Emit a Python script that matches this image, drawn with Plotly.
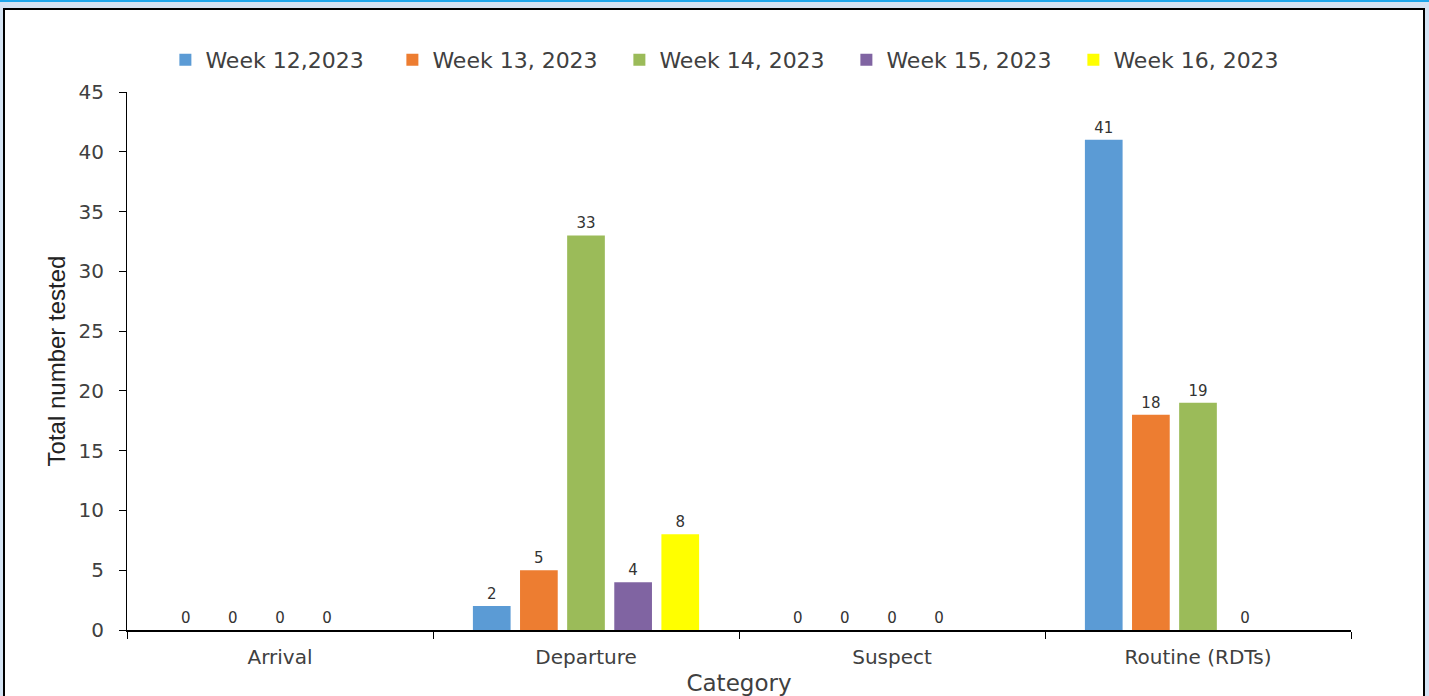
import plotly.graph_objects as go

categories = ["Arrival", "Departure", "Suspect", "Routine (RDTs)"]
series_names = ["Week 12,2023", "Week 13, 2023", "Week 14, 2023", "Week 15, 2023", "Week 16, 2023"]
week12 = [0, 2, 0, 41]
week13 = [0, 5, 0, 18]
week14 = [0, 33, 0, 19]
week15 = [0, 4, 0, 0]
week16 = [None, 8, None, None]
colors = ["#5b9bd5", "#ed7d31", "#9bbb59", "#8064a2", "#ffff00"]
y_ticks = [0, 5, 10, 15, 20, 25, 30, 35, 40, 45]

fig = go.Figure()
for name, vals, col in zip(series_names, [week12, week13, week14, week15, week16], colors):
    fig.add_trace(go.Bar(
        x=categories, y=vals, name=name,
        marker=dict(color=col, line=dict(width=0)),
        text=[("" if v is None else str(v)) for v in vals],
        textposition="outside",
        textfont=dict(family="DejaVu Sans", size=15, color="#333333"),
        cliponaxis=False,
    ))

fig.update_layout(
    width=1429, height=696,
    barmode="group", bargap=0.23, bargroupgap=0.2,
    paper_bgcolor="#d5e4f4", plot_bgcolor="white",
    margin=dict(l=127, r=78, t=92, b=66, autoexpand=False),
    font=dict(family="DejaVu Sans", color="#404040"),
    legend=dict(orientation="h", x=0.495, xanchor="center", y=(630 - 60) / 538, yanchor="middle",
                font=dict(size=22, color="#404040"), bgcolor="rgba(0,0,0,0)",
                entrywidth=182, entrywidthmode="pixels"),
    showlegend=True,
    shapes=[
        dict(type="rect", xref="paper", yref="paper",
             x0=(4 - 127) / 1224, x1=(1424 - 127) / 1224,
             y0=(630 - 720) / 538, y1=(630 - 9) / 538,
             fillcolor="white", line=dict(color="black", width=2), layer="below"),
        dict(type="line", xref="paper", yref="paper",
             x0=-0.2, x1=1.2, y0=(630 - 1) / 538, y1=(630 - 1) / 538,
             line=dict(color="#1ea7ec", width=2)),
    ],
)
fig.update_yaxes(
    range=[0, 45], tickvals=y_ticks, showgrid=False, zeroline=False, automargin=False,
    showline=True, linecolor="black", linewidth=1,
    ticks="outside", ticklen=7, tickcolor="black", ticklabelstandoff=11,
    tickfont=dict(size=20, color="#404040"),
    title=dict(text="Total number tested", font=dict(family="Liberation Sans Narrow, Arial Narrow, sans-serif", size=24, color="#222"), standoff=6),
)
fig.update_xaxes(
    showgrid=False, showline=True, linecolor="black", linewidth=2, automargin=False,
    showspikes=False,
    ticks="outside", tickson="boundaries", ticklen=7, tickcolor="black", ticklabelstandoff=8,
    tickfont=dict(size=20, color="#404040"),
    title=dict(text="Category", font=dict(size=23, color="#404040"), standoff=11),
)
fig.write_html("out.html", config={"displayModeBar": False},
               post_script="document.body.style.margin='0px';")
